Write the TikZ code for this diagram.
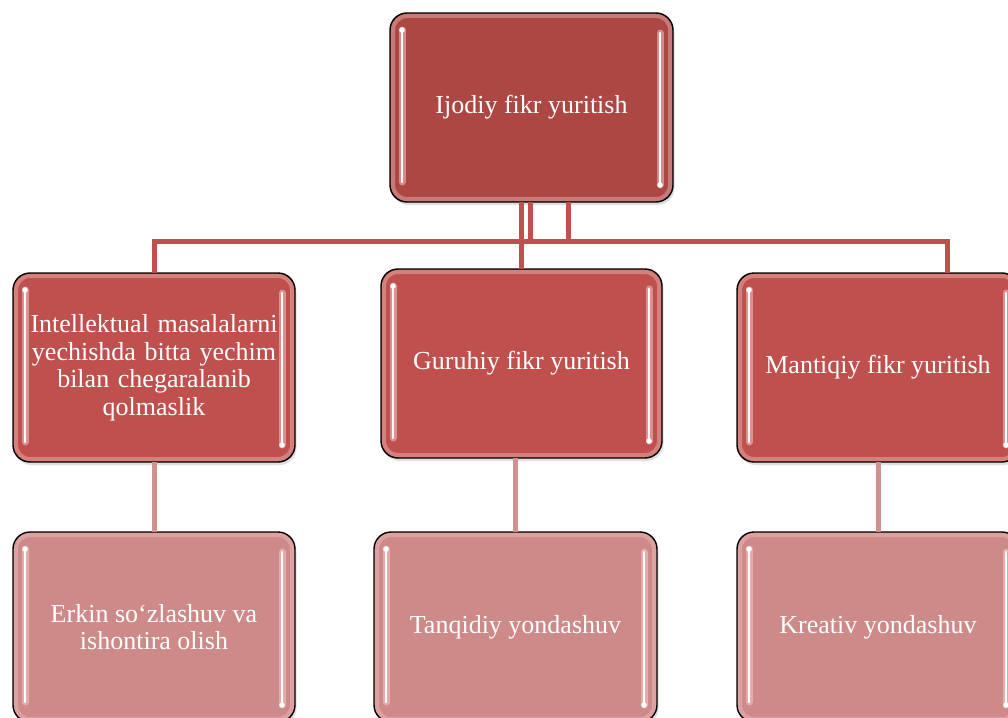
\documentclass[tikz,border=0pt]{standalone}
\usepackage{fontspec}
\setmainfont{Liberation Serif}
\usetikzlibrary{shadows,calc}
\definecolor{cTop}{HTML}{AC4744}
\definecolor{cMid}{HTML}{C0504D}
\definecolor{cLow}{HTML}{CD8A88}
\definecolor{cLineA}{HTML}{C0504D}
\definecolor{cLineB}{HTML}{D09290}
\definecolor{cGlow}{HTML}{F4C8C6}
\tikzset{
  box/.style={draw=black, line width=1.4pt, rounded corners=17pt,
    minimum width=282pt, minimum height=189pt, inner sep=4pt, outer sep=0pt,
    text=white, align=center, font=\fontsize{26}{27.5}\selectfont,
    drop shadow={opacity=0.25, shadow xshift=1.5pt, shadow yshift=-3pt}},
  topbox/.style={box, fill=cTop},
  midbox/.style={box, fill=cMid},
  lowbox/.style={box, fill=cLow, minimum height=190pt},
  connA/.style={draw=cLineA, line width=5pt},
  connB/.style={draw=cLineB, line width=5pt},
  glowline/.style={draw=cGlow, line width=4pt, opacity=0.4, rounded corners=14pt},
  barout/.style={draw=cGlow, line width=7pt, opacity=0.55, line cap=round},
  barin/.style={draw=white, line width=2.6pt, line cap=round},
}
\newcommand{\glossbox}[1]{%
  \draw[glowline] ([shift={(3pt,-3pt)}]#1.north west) rectangle ([shift={(-3pt,3pt)}]#1.south east);
  \draw[barout] ([shift={(12pt,-17pt)}]#1.north west) -- ([shift={(12pt,20pt)}]#1.south west);
  \draw[barin] ([shift={(12pt,-17pt)}]#1.north west) -- ([shift={(12pt,20pt)}]#1.south west);
  \fill[white] ([shift={(12pt,-17pt)}]#1.north west) circle (2.8pt);
  \draw[barout] ([shift={(-13pt,-20pt)}]#1.north east) -- ([shift={(-13pt,17pt)}]#1.south east);
  \draw[barin] ([shift={(-13pt,-20pt)}]#1.north east) -- ([shift={(-13pt,17pt)}]#1.south east);
  \fill[white] ([shift={(-13pt,17pt)}]#1.south east) circle (2.8pt);
}
\begin{document}
\begin{tikzpicture}[x=1pt,y=-1pt]
\useasboundingbox (0,0) rectangle (1008,717);
\clip (0,0) rectangle (1008,717);
\fill[white] (0,0) rectangle (1008,717);

\node[topbox, minimum width=283pt] (top) at (531.5,107.5) {Ijodiy fikr yuritish};
\node[midbox, text width=270pt] (l1) at (154,367.5) {Intellektual masalalarni\\yechishda bitta yechim\\bilan chegaralanib\\qolmaslik};
\node[midbox, minimum width=281pt] (m1) at (521.5,363.5) {Guruhiy fikr yuritish};
\node[midbox] (r1) at (878,367.5) {Mantiqiy fikr yuritish};
\node[lowbox] (l2) at (154,627) {Erkin so‘zlashuv va\\ishontira olish};
\node[lowbox, minimum width=283pt] (m2) at (515.5,627) {Tanqidiy yondashuv};
\node[lowbox] (r2) at (878,627) {Kreativ yondashuv};

\glossbox{top}
\glossbox{l1}
\glossbox{m1}
\glossbox{r1}
\glossbox{l2}
\glossbox{m2}
\glossbox{r2}

\coordinate (hl) at (154,241);
\coordinate (hr) at (947,241);
\draw[connA] ([xshift=36.5pt]top.south) |- (hl) -- (l1.north);
\draw[connA] ([xshift=-1.5pt]top.south) |- (hr) -- ([xshift=69pt]r1.north);
\draw[connA] (top.south -| m1.north) -- (m1.north);

\draw[connB] (l1.south) -- (l2.north);
\draw[connB] (m1.south -| m2.north) -- (m2.north);
\draw[connB] (r1.south) -- (r2.north);
\end{tikzpicture}
\end{document}
